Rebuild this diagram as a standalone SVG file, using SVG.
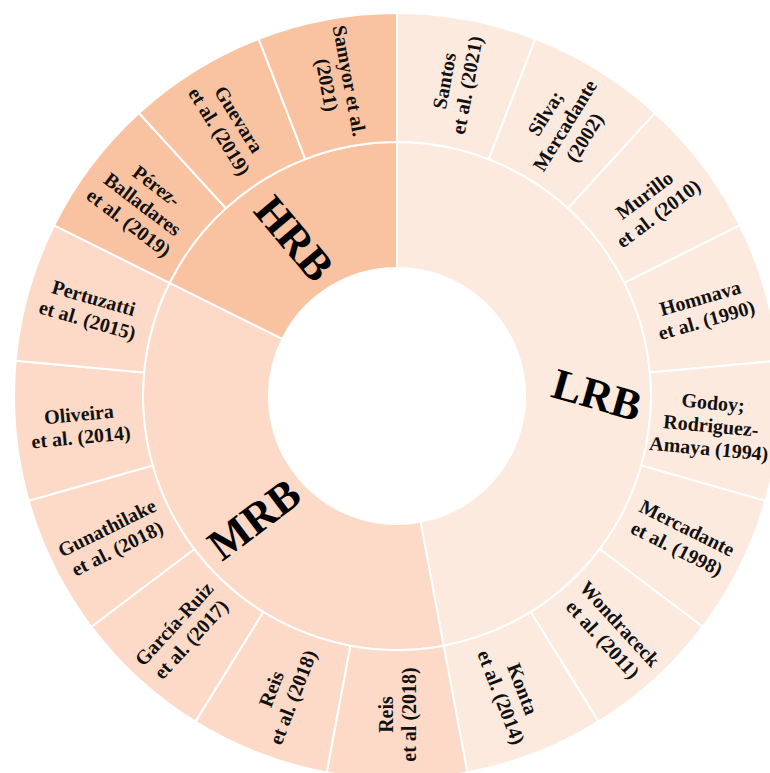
<svg xmlns="http://www.w3.org/2000/svg" width="770" height="773" viewBox="0 0 770 773">
<style>
.w{stroke:#ffffff;stroke-width:2;stroke-linejoin:round}
.lrb{fill:#fdeadf}
.mrb{fill:#fcdac7}
.hrb{fill:#f9c3a2}
.t{font-family:"Liberation Serif","Times New Roman",serif;font-weight:bold;font-size:20px;fill:#111111;text-anchor:middle}
.big{font-family:"Liberation Serif","Times New Roman",serif;font-weight:bold;font-size:44px;fill:#000000;text-anchor:middle}
</style>
<rect width="770" height="773" fill="#ffffff"/>
<g id="inner-LRB">
<path class="w lrb" d="M397,142 A254,254 0 0 1 443.67,645.67 L420.52,521.82 A128,128 0 0 0 397,268 Z"/>
<text class="big" transform="translate(593,409) rotate(16)">LRB</text>
</g>
<g id="inner-MRB">
<path class="w mrb" d="M443.67,645.67 A254,254 0 0 1 169.63,282.78 L282.42,338.95 A128,128 0 0 0 420.52,521.82 Z"/>
<text class="big" transform="translate(263,531) rotate(-37)">MRB</text>
</g>
<g id="inner-HRB">
<path class="w hrb" d="M169.63,282.78 A254,254 0 0 1 397,142 L397,268 A128,128 0 0 0 282.42,338.95 Z"/>
<text class="big" transform="translate(283,248) rotate(50)">HRB</text>
</g>
<g id="santos">
<path class="w lrb" d="M397,142 L397,13 A383,383 0 0 1 535.35,38.86 L488.76,159.15 A254,254 0 0 0 397,142 Z"/>
<text class="t" transform="translate(455.5,82.9) rotate(-79.4)"><tspan x="0" y="-4.5">Santos</tspan><tspan x="0" y="18.5">et al. (2021)</tspan></text>
</g>
<g id="silva">
<path class="w lrb" d="M488.76,159.15 L535.35,38.86 A383,383 0 0 1 655.03,112.96 L568.12,208.29 A254,254 0 0 0 488.76,159.15 Z"/>
<text class="t" transform="translate(564.7,125.2) rotate(-58.2)"><tspan x="0" y="-16">Silva;</tspan><tspan x="0" y="7">Mercadante</tspan><tspan x="0" y="30">(2002)</tspan></text>
</g>
<g id="murillo">
<path class="w lrb" d="M568.12,208.29 L655.03,112.96 A383,383 0 0 1 739.85,225.28 L624.37,282.78 A254,254 0 0 0 568.12,208.29 Z"/>
<text class="t" transform="translate(651.2,204.1) rotate(-37.1)"><tspan x="0" y="-4.5">Murillo</tspan><tspan x="0" y="18.5">et al. (2010)</tspan></text>
</g>
<g id="homnava">
<path class="w lrb" d="M624.37,282.78 L739.85,225.28 A383,383 0 0 1 778.36,360.66 L649.92,372.56 A254,254 0 0 0 624.37,282.78 Z"/>
<text class="t" transform="translate(703.3,308.8) rotate(-15.9)"><tspan x="0" y="-4.5">Homnava</tspan><tspan x="0" y="18.5">et al. (1990)</tspan></text>
</g>
<g id="godoy">
<path class="w lrb" d="M649.92,372.56 L778.36,360.66 A383,383 0 0 1 765.38,500.81 L641.30,465.51 A254,254 0 0 0 649.92,372.56 Z"/>
<text class="t" transform="translate(711,425.4) rotate(5.3)"><tspan x="0" y="-16">Godoy;</tspan><tspan x="0" y="7">Rodriguez-</tspan><tspan x="0" y="30">Amaya (1994)</tspan></text>
</g>
<g id="mercadante">
<path class="w lrb" d="M641.30,465.51 L765.38,500.81 A383,383 0 0 1 702.64,626.81 L599.70,549.07 A254,254 0 0 0 641.30,465.51 Z"/>
<text class="t" transform="translate(682.1,538) rotate(26.5)"><tspan x="0" y="-4.5">Mercadante</tspan><tspan x="0" y="18.5">et al. (1998)</tspan></text>
</g>
<g id="wondraceck">
<path class="w lrb" d="M599.70,549.07 L702.64,626.81 A383,383 0 0 1 598.63,721.64 L530.72,611.96 A254,254 0 0 0 599.70,549.07 Z"/>
<text class="t" transform="translate(611.6,631.4) rotate(47.6)"><tspan x="0" y="-4.5">Wondraceck</tspan><tspan x="0" y="18.5">et al. (2011)</tspan></text>
</g>
<g id="konta">
<path class="w lrb" d="M530.72,611.96 L598.63,721.64 A383,383 0 0 1 467.38,772.48 L443.67,645.67 A254,254 0 0 0 530.72,611.96 Z"/>
<text class="t" transform="translate(512.1,693) rotate(68.8)"><tspan x="0" y="-4.5">Konta</tspan><tspan x="0" y="18.5">et al. (2014)</tspan></text>
</g>
<g id="reis1">
<path class="w mrb" d="M443.67,645.67 L467.38,772.48 A383,383 0 0 1 326.62,772.48 L350.33,645.67 A254,254 0 0 0 443.67,645.67 Z"/>
<text class="t" transform="translate(397,714.5) rotate(-90)"><tspan x="0" y="-4.5">Reis</tspan><tspan x="0" y="18.5">et al (2018)</tspan></text>
</g>
<g id="reis2">
<path class="w mrb" d="M350.33,645.67 L326.62,772.48 A383,383 0 0 1 195.37,721.64 L263.28,611.96 A254,254 0 0 0 350.33,645.67 Z"/>
<text class="t" transform="translate(281.9,693) rotate(-68.8)"><tspan x="0" y="-4.5">Reis</tspan><tspan x="0" y="18.5">et al. (2018)</tspan></text>
</g>
<g id="garcia">
<path class="w mrb" d="M263.28,611.96 L195.37,721.64 A383,383 0 0 1 91.36,626.81 L194.30,549.07 A254,254 0 0 0 263.28,611.96 Z"/>
<text class="t" transform="translate(182.4,631.4) rotate(-47.6)"><tspan x="0" y="-4.5">García-Ruiz</tspan><tspan x="0" y="18.5">et al. (2017)</tspan></text>
</g>
<g id="gunathilake">
<path class="w mrb" d="M194.30,549.07 L91.36,626.81 A383,383 0 0 1 28.62,500.81 L152.70,465.51 A254,254 0 0 0 194.30,549.07 Z"/>
<text class="t" transform="translate(111.9,538) rotate(-26.5)"><tspan x="0" y="-4.5">Gunathilake</tspan><tspan x="0" y="18.5">et al. (2018)</tspan></text>
</g>
<g id="oliveira">
<path class="w mrb" d="M152.70,465.51 L28.62,500.81 A383,383 0 0 1 15.64,360.66 L144.08,372.56 A254,254 0 0 0 152.70,465.51 Z"/>
<text class="t" transform="translate(79.9,425.4) rotate(-5.3)"><tspan x="0" y="-4.5">Oliveira</tspan><tspan x="0" y="18.5">et al. (2014)</tspan></text>
</g>
<g id="pertuzatti">
<path class="w mrb" d="M144.08,372.56 L15.64,360.66 A383,383 0 0 1 54.15,225.28 L169.63,282.78 A254,254 0 0 0 144.08,372.56 Z"/>
<text class="t" transform="translate(90.7,308.8) rotate(15.9)"><tspan x="0" y="-4.5">Pertuzatti</tspan><tspan x="0" y="18.5">et al. (2015)</tspan></text>
</g>
<g id="perez">
<path class="w hrb" d="M169.63,282.78 L54.15,225.28 A383,383 0 0 1 138.97,112.96 L225.88,208.29 A254,254 0 0 0 169.63,282.78 Z"/>
<text class="t" transform="translate(142.8,204.1) rotate(37.1)"><tspan x="0" y="-16">Pérez-</tspan><tspan x="0" y="7">Balladares</tspan><tspan x="0" y="30">et al. (2019)</tspan></text>
</g>
<g id="guevara">
<path class="w hrb" d="M225.88,208.29 L138.97,112.96 A383,383 0 0 1 258.65,38.86 L305.24,159.15 A254,254 0 0 0 225.88,208.29 Z"/>
<text class="t" transform="translate(229.3,125.2) rotate(58.2)"><tspan x="0" y="-4.5">Guevara</tspan><tspan x="0" y="18.5">et al. (2019)</tspan></text>
</g>
<g id="samyor">
<path class="w hrb" d="M305.24,159.15 L258.65,38.86 A383,383 0 0 1 397,13 L397,142 A254,254 0 0 0 305.24,159.15 Z"/>
<text class="t" transform="translate(338.5,82.9) rotate(79.4)"><tspan x="0" y="-4.5">Samyor et al.</tspan><tspan x="0" y="18.5">(2021)</tspan></text>
</g>
<g id="connectors"></g>
</svg>
